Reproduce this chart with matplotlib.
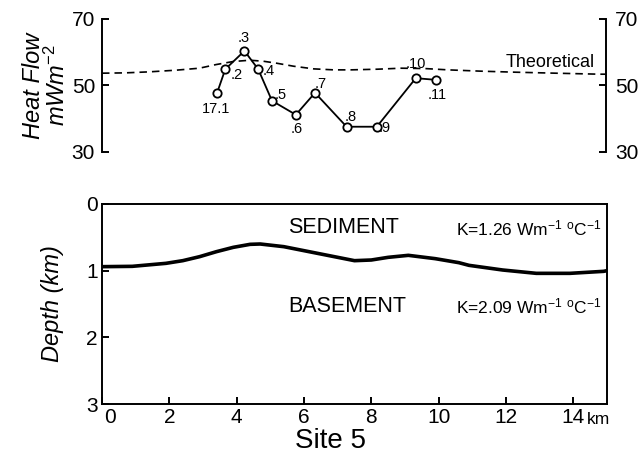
import matplotlib
matplotlib.use("Agg")
import matplotlib.pyplot as plt
from matplotlib.transforms import ScaledTranslation

plt.rcParams['font.family'] = ['Liberation Sans', 'DejaVu Sans']
plt.rcParams['mathtext.fontset'] = 'custom'
plt.rcParams['mathtext.rm'] = 'Liberation Sans'
plt.rcParams['mathtext.it'] = 'Liberation Sans:italic'

# heat flow stations (distance km, mW m^-2)
station_labels = ["17.1", ".2", ".3", ".4", ".5", ".6", ".7", ".8", ".9", ".10", ".11"]
station_km = [3.42, 3.67, 4.24, 4.65, 5.06, 5.77, 6.34, 7.28, 8.18, 9.34, 9.94]
heat_flow = [47.6, 54.9, 60.4, 54.9, 45.4, 41.2, 47.8, 37.6, 37.6, 52.2, 51.7]
label_offsets = [(-1, -16), (11, -6), (-1, 13), (10, -2), (9, 6), (1, -14),
                 (6, 9), (4, 10), (8, -1), (0, 14), (1, -15)]

# theoretical heat flow curve
theo_km = [0.0, 0.7, 1.4, 2.2, 2.9, 3.4, 3.9, 4.4, 4.8, 5.2, 5.7, 6.3, 6.9,
           7.4, 8.2, 8.9, 9.6, 10.3, 11.3, 12.3, 13.5, 14.8, 15.0]
theo_flow = [53.7, 53.8, 54.1, 54.6, 55.2, 56.3, 57.2, 57.6, 57.3, 56.7, 55.8,
             55.0, 54.7, 54.7, 54.9, 55.2, 55.1, 54.7, 54.3, 54.0, 53.7, 53.4, 53.4]

# sediment / basement interface
depth_km = [0.0, 0.9, 1.9, 2.4, 2.9, 3.4, 3.9, 4.4, 4.7, 5.4, 6.4, 6.9, 7.5,
            8.0, 8.5, 9.1, 9.9, 10.6, 10.9, 11.9, 12.9, 13.9, 14.9, 15.0]
depth = [0.94, 0.935, 0.89, 0.85, 0.79, 0.715, 0.65, 0.605, 0.60, 0.64, 0.74,
         0.79, 0.85, 0.84, 0.80, 0.77, 0.82, 0.88, 0.92, 0.99, 1.04, 1.04, 1.01, 1.0]

fig = plt.figure(figsize=(6.43, 4.61), dpi=100)

# --- heat flow panel ---
ax1 = fig.add_axes([0.1586, 0.6703, 0.7838, 0.2885])
ax1.plot(theo_km, theo_flow, color='black', lw=1.2, ls=(0, (4.5, 3)))
ax1.plot(station_km, heat_flow, color='black', lw=1.3, marker='o', ms=6,
         mfc='white', mec='black', mew=1.3)
for lab, x, y, off in zip(station_labels, station_km, heat_flow, label_offsets):
    ax1.annotate(lab, (x, y), xytext=off, textcoords='offset pixels',
                 ha='center', va='center', fontsize=10.5)
ax1.text(13.35, 56.8, "Theoretical", ha='center', va='center', fontsize=13)

ax1.set_xlim(0, 15)
ax1.set_ylim(30, 70)
ax1.set_yticks([30, 50, 70])
for s in ['top', 'bottom']:
    ax1.spines[s].set_visible(False)
ax1.spines['left'].set_linewidth(1.4)
ax1.spines['right'].set_linewidth(1.4)
ax1.set_xticks([])
ax1.tick_params(axis='y', direction='in', length=5, width=1.4, labelsize=15,
                left=True, right=True, labelleft=True, labelright=True, pad=5)
ax1.set_ylabel("Heat Flow\nmWm$^{-2}$", fontsize=17, style='italic', labelpad=1,
               linespacing=1.0)

# --- depth section panel ---
ax2 = fig.add_axes([0.1586, 0.1236, 0.7854, 0.4339])
ax2.plot(depth_km, depth, color='black', lw=2.6, solid_capstyle='butt')
ax2.text(5.52, 0.36, "SEDIMENT", ha='left', va='center', fontsize=15.5)
ax2.text(10.53, 0.36, "K=1.26 Wm$^{-1}$ $^{\\mathrm{o}}$C$^{-1}$", ha='left', va='center', fontsize=12.5)
ax2.text(5.52, 1.53, "BASEMENT", ha='left', va='center', fontsize=15.5)
ax2.text(10.53, 1.53, "K=2.09 Wm$^{-1}$ $^{\\mathrm{o}}$C$^{-1}$", ha='left', va='center', fontsize=12.5)

ax2.set_xlim(0, 15)
ax2.set_ylim(3, 0)
ax2.set_xticks(range(0, 15, 2))
ax2.set_yticks([0, 1, 2, 3])
for s in ax2.spines.values():
    s.set_linewidth(1.4)
ax2.tick_params(direction='in', length=5, width=1.4, labelsize=15, pad=3)

fig.canvas.draw()
# nudge the "0" on the distance axis clear of the depth "3"
xlab0 = ax2.get_xticklabels()[0]
xlab0.set_transform(xlab0.get_transform() + ScaledTranslation(6 / 72, 0, fig.dpi_scale_trans))
# right-hand heat flow labels sit a little further out
for t in ax1.yaxis.get_major_ticks():
    t.label2.set_transform(t.label2.get_transform() + ScaledTranslation(1.5 / 72, 0, fig.dpi_scale_trans))

ax2.text(14.4, -0.1, "km", transform=ax2.get_xaxis_transform(), ha='left', va='baseline',
         fontsize=12.5, clip_on=False)
ax2.set_ylabel("Depth (km)", fontsize=17, style='italic', labelpad=16)
ax2.text(6.8, -0.12, "Site 5", transform=ax2.get_xaxis_transform(), ha='center',
         va='top', fontsize=20)

fig.savefig("out.png", dpi=100)
